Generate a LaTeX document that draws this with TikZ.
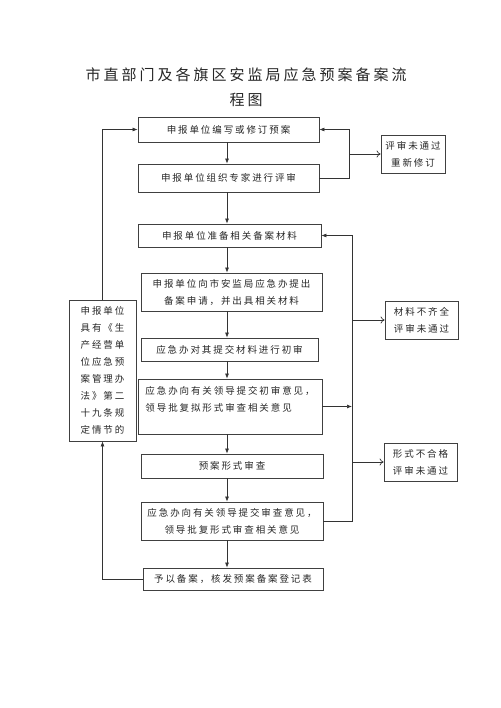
\documentclass[tikz,border=0pt]{standalone}
\usepackage{fontspec}
\newfontfamily\cjk[LetterSpace=20]{Noto Sans CJK SC}
\usetikzlibrary{arrows.meta}

\tikzset{
  box/.style={draw=black!75, line width=0.8pt, text=black!85, inner sep=2pt,
    font={\cjk\fontsize{9.5}{17}\selectfont}},
  arr/.style={-{Latex[length=5pt,width=4pt]}, line width=0.7pt, draw=black!80},
  openarr/.style={-{To[length=4pt,width=7pt]}, line width=0.7pt, draw=black!80},
}

\begin{document}
\begin{tikzpicture}[x=1pt, y=-1pt]
    \useasboundingbox (0,0) rectangle (500,708);

    % title
    \node[text=black!85, align=center, font={\cjk\fontsize{15}{25}\selectfont}] (title) at (246,87)
      {市直部门及各旗区安监局应急预案备案流\\程图};

    % main column
    \node[box, minimum width=181, minimum height=25] (b1) at (228.5,129.5) {申报单位编写或修订预案};
    \node[box, minimum width=181, minimum height=28] (b2) at (228.5,178) {申报单位组织专家进行评审};
    \node[box, minimum width=183, minimum height=23] (b3) at (229.5,235.5) {申报单位准备相关备案材料};
    \node[box, minimum width=181, minimum height=38, align=center] (b4) at (231.5,292)
      {申报单位向市安监局应急办提出\\备案申请，并出具相关材料};
    \node[box, minimum width=177, minimum height=23] (b5) at (229.5,349.5) {应急办对其提交材料进行初审};
    \node[box, minimum width=184, minimum height=55] (b6) at (230,406.5) {};
    \node[box, draw=none, anchor=north, align=left] (t6) at ([yshift=-5pt]b6.north)
      {应急办向有关领导提交初审意见，\\领导批复拟形式审查相关意见};
    \node[box, minimum width=182, minimum height=24] (b7) at (232,466) {预案形式审查};
    \node[box, minimum width=182, minimum height=38, align=center] (b8) at (232,521)
      {应急办向有关领导提交审查意见，\\领导批复形式审查相关意见};
    \node[box, minimum width=180, minimum height=22] (b9) at (233,579) {予以备案，核发预案备案登记表};

    % side boxes
    \node[box, minimum width=67, minimum height=141, align=left] (lft) at (102.5,370.5)
      {申报单位\\具有《生\\产经营单\\位应急预\\案管理办\\法》第二\\十九条规\\定情节的};
    \node[box, minimum width=64, minimum height=38, align=center] (r1) at (413,154) {评审未通过\\重新修订};
    \node[box, minimum width=73, minimum height=38, align=center] (r2) at (421.5,320) {材料不齐全\\评审未通过};
    \node[box, minimum width=73, minimum height=38, align=center] (r3) at (420.5,462) {形式不合格\\评审未通过};

    \coordinate (ax) at (227,0);
    \coordinate (rx1) at (349,0);
    \coordinate (rx2) at (352,0);
    \coordinate (lx) at (102.5,0);

    % down arrows
    \draw[arr] (b1.south -| ax) -- (b2.north -| ax);
    \draw[arr] (b2.south -| ax) -- (b3.north -| ax);
    \draw[arr] (b3.south -| ax) -- (b4.north -| ax);
    \draw[arr] (b4.south -| ax) -- (b5.north -| ax);
    \draw[arr] (b5.south -| ax) -- (b6.north -| ax);
    \draw[arr] (b6.south -| ax) -- (b7.north -| ax);
    \draw[arr] (b7.south -| ax) -- (b8.north -| ax);
    \draw[arr] (b8.south -| ax) -- (b9.north -| ax);

    % review loop
    \draw[arr] (b2.east) -- (b2.east -| rx1) -- (b1.east -| rx1) -- (b1.east);
    \draw[openarr] (r1.west -| rx1) -- (r1.west);

    % filing loop
    \draw[arr] (b8.east) -- (b8.east -| rx2) -- (b3.east -| rx2) -- (b3.east);
    \draw[arr] (b6.east) -- (b6.east -| rx2);
    \draw[openarr] (r2.west -| rx2) -- (r2.west);
    \draw[openarr] (r3.west -| rx2) -- (r3.west);

    % left loop
    \draw[arr] (b9.west) -- (b9.west -| lx) -- (lft.south);
    \draw[arr] (lft.north) -- (b1.west -| lx) -- (b1.west);

\end{tikzpicture}
\end{document}
